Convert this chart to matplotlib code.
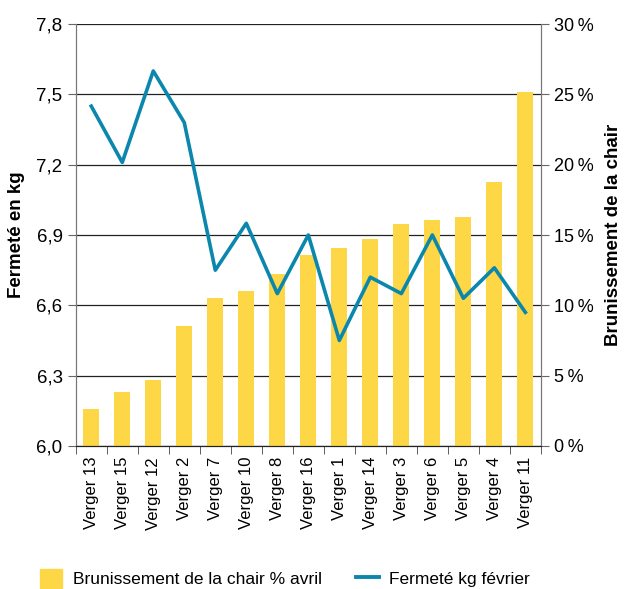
import matplotlib.pyplot as plt
import numpy as np
from matplotlib.patches import Patch
from matplotlib.lines import Line2D

plt.rcParams['font.family'] = ['Liberation Sans', 'DejaVu Sans']

# data
vergers = ['Verger 13', 'Verger 15', 'Verger 12', 'Verger 2', 'Verger 7', 'Verger 10',
           'Verger 8', 'Verger 16', 'Verger 1', 'Verger 14', 'Verger 3', 'Verger 6',
           'Verger 5', 'Verger 4', 'Verger 11']
brunissement = [2.6, 3.8, 4.7, 8.5, 10.5, 11.0, 12.2, 13.6, 14.1, 14.7, 15.8, 16.1, 16.3, 18.8, 25.2]
fermete = [7.45, 7.21, 7.60, 7.38, 6.75, 6.95, 6.65, 6.90, 6.45, 6.72, 6.65, 6.90, 6.63, 6.76, 6.57]

yellow = '#FDD745'
blue = '#0B87AD'

fig = plt.figure(figsize=(6.26, 5.89), dpi=100)
ax = fig.add_axes([0.121, 0.243, 0.743, 0.716])
ax2 = ax.twinx()
ax.set_zorder(2)
ax2.set_zorder(1)
ax.patch.set_visible(False)

x = np.arange(len(vergers))

# bars on right axis (percent)
ax2.bar(x, brunissement, width=0.52, color=yellow, zorder=2)
ax2.set_ylim(0, 30)
ax2.set_yticks(np.arange(0, 31, 5))
ax2.set_yticklabels(['{}\u2009%'.format(v) for v in range(0, 31, 5)], fontsize=13)
ax2.yaxis.grid(True, color='#222222', linewidth=0.9)
ax2.set_axisbelow(True)
ax2.set_ylabel('Brunissement de la chair', fontsize=13.5, fontweight='bold', labelpad=8)

# line on left axis (kg)
ax.plot(x, fermete, color=blue, linewidth=2.6, zorder=3)
ax.set_ylim(6.0, 7.8)
ticks = np.arange(6.0, 7.81, 0.3)
ax.set_yticks(ticks)
ax.set_yticklabels(['{:.1f}'.format(t).replace('.', ',') for t in ticks], fontsize=13.5)
ax.set_ylabel('Fermeté en kg', fontsize=13.5, fontweight='bold', labelpad=8)

ax.set_xlim(-0.5, len(vergers) - 0.5)
ax.set_xticks(x)
ax.set_xticklabels(vergers, rotation=90, fontsize=12)
ax.set_xticks(np.arange(-0.5, len(vergers), 1), minor=True)
ax.tick_params(axis='x', which='major', length=0, pad=8)
ax.tick_params(axis='x', which='minor', length=6, color='#444444')
ax.tick_params(axis='y', length=6, color='#666666')
ax2.tick_params(axis='y', length=6, color='#666666')

for a in (ax, ax2):
    a.spines['top'].set_visible(False)
    a.spines['left'].set_color('#777777')
    a.spines['right'].set_color('#777777')
    a.spines['bottom'].set_color('#222222')

handles = [Patch(color=yellow), Line2D([], [], color=blue, linewidth=2.8)]
labels = ['Brunissement de la chair % avril', 'Fermeté kg février']
fig.legend(handles, labels, loc='lower center', bbox_to_anchor=(0.455, -0.025), ncol=2,
           frameon=False, fontsize=12.5, columnspacing=2.0, handlelength=1.3,
           handleheight=1.3, handletextpad=0.6)

fig.savefig('out.png', dpi=100)
